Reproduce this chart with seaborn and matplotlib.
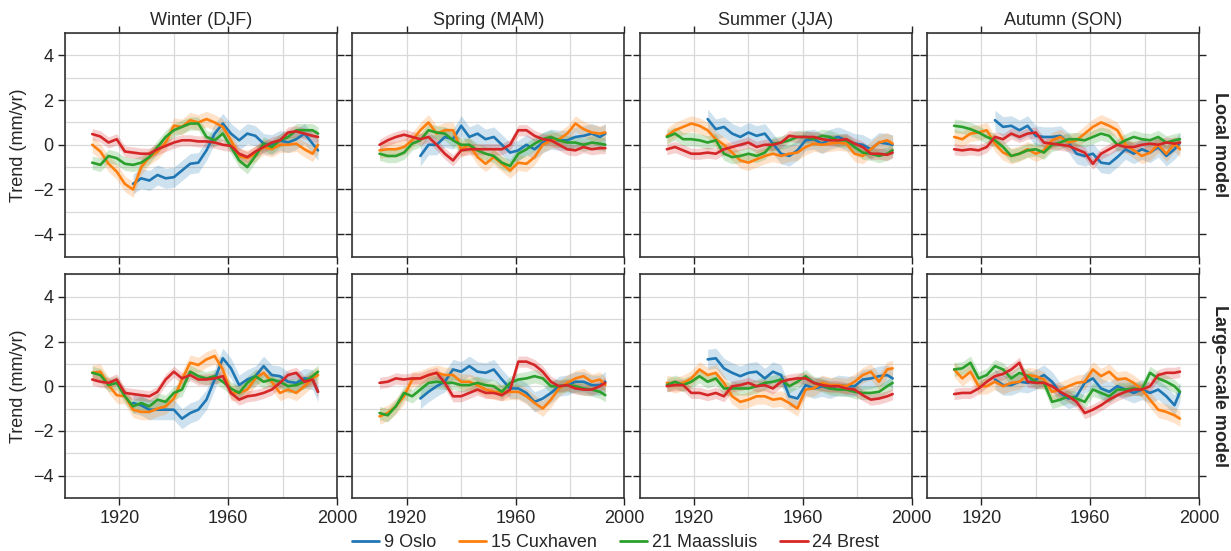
import numpy as np
import pandas as pd
import matplotlib
matplotlib.use("Agg")
import matplotlib.pyplot as plt
from matplotlib.ticker import FixedLocator, MultipleLocator
from matplotlib.lines import Line2D
import seaborn as sns

nan = np.nan

### data (every ~3 years)

years = [1910, 1913, 1916, 1919, 1922, 1925, 1928, 1931, 1934, 1937, 1940, 1943, 1946, 1949,
         1952, 1955, 1958, 1961, 1964, 1967, 1970, 1973, 1976, 1979, 1982, 1985, 1988, 1991, 1993]
stations = ["9 Oslo", "15 Cuxhaven", "21 Maassluis", "24 Brest"]
colors = ["#1f77b4", "#ff7f0e", "#2ca02c", "#d62728"]
seasons = ["Winter (DJF)", "Spring (MAM)", "Summer (JJA)", "Autumn (SON)"]
models = ["Local model", "Large\u2013scale model"]
band = [0.45, 0.35, 0.3, 0.25]   # rough half-width of shaded band per station

# local model
djf_local = {
    "9 Oslo": [nan] * 5 + [-1.75, -1.5, -1.6, -1.35, -1.5, -1.45, -1.15, -0.85, -0.8, -0.25, 0.5, 0.95,
                           0.5, 0.2, 0.5, 0.4, 0.05, 0.0, 0.2, 0.1, 0.25, 0.5, 0.05, -0.25],
    "15 Cuxhaven": [0.0, -0.3, -0.85, -1.2, -1.75, -2.0, -1.0, -0.55, -0.3, 0.1, 0.85, 0.8, 1.1, 1.0, 1.15,
                    1.0, 0.8, 0.2, -0.5, -0.6, -0.4, -0.1, -0.2, 0.0, 0.0, 0.05, -0.2, -0.4, 0.0],
    "21 Maassluis": [-0.8, -0.9, -0.5, -0.6, -0.85, -0.9, -0.8, -0.55, -0.1, 0.35, 0.65, 0.8, 0.95, 0.95, 0.35,
                     0.2, 0.5, -0.1, -0.7, -1.0, -0.5, 0.05, -0.1, 0.2, 0.35, 0.65, 0.65, 0.65, 0.5],
    "24 Brest": [0.48, 0.37, 0.1, 0.25, -0.3, -0.35, -0.4, -0.4, -0.2, -0.05, 0.1, 0.2, 0.2, 0.15, 0.15,
                 0.1, 0.0, -0.05, -0.4, -0.55, -0.3, -0.1, 0.1, 0.2, 0.55, 0.6, 0.5, 0.4, 0.35],
}
mam_local = {
    "9 Oslo": [nan] * 5 + [-0.5, 0.0, 0.0, 0.35, 0.25, 0.85, 0.35, 0.5, 0.25, 0.35, 0.0, -0.35,
                           -0.25, 0.0, -0.2, 0.1, 0.25, 0.2, 0.2, 0.35, 0.4, 0.5, 0.35, 0.5],
    "15 Cuxhaven": [-0.25, -0.2, -0.2, -0.1, 0.2, 0.65, 1.0, 0.5, 0.65, 0.65, -0.2, 0.0, -0.55, -0.85, -0.55,
                    -0.85, -1.15, -0.8, -0.85, -0.55, 0.0, 0.2, 0.25, 0.5, 0.95, 0.7, 0.55, 0.5, 0.55],
    "21 Maassluis": [-0.4, -0.5, -0.5, -0.35, 0.05, 0.2, 0.65, 0.55, 0.5, 0.2, 0.0, 0.0, -0.25, -0.4, -0.5,
                     -0.8, -0.95, -0.4, -0.2, 0.05, 0.25, 0.35, 0.2, 0.1, 0.1, 0.0, 0.1, 0.05, 0.0],
    "24 Brest": [0.0, 0.2, 0.35, 0.45, 0.35, 0.25, 0.35, 0.0, -0.4, -0.7, -0.25, -0.2, -0.2, -0.2, -0.2,
                 -0.2, 0.0, 0.65, 0.65, 0.4, 0.25, 0.2, 0.0, -0.2, -0.25, -0.1, -0.2, -0.15, -0.15],
}
jja_local = {
    "9 Oslo": [nan] * 5 + [1.15, 0.7, 0.8, 0.5, 0.35, 0.55, 0.4, 0.5, 0.05, -0.4, -0.5, -0.25,
                           0.2, 0.25, 0.05, 0.25, 0.35, 0.2, 0.05, 0.0, -0.2, 0.1, 0.05, 0.0],
    "15 Cuxhaven": [0.4, 0.65, 0.8, 0.95, 0.85, 0.65, 0.25, 0.0, -0.35, -0.7, -0.8, -0.65, -0.5, -0.4, -0.5,
                    -0.4, -0.35, -0.1, 0.05, 0.0, 0.05, 0.1, 0.05, -0.4, -0.5, -0.2, 0.1, 0.2, 0.05],
    "21 Maassluis": [0.35, 0.5, 0.25, 0.25, 0.2, 0.1, 0.2, -0.4, -0.55, -0.5, -0.4, -0.5, -0.35, 0.05, 0.1,
                     0.2, 0.35, 0.35, 0.25, 0.4, 0.35, 0.2, 0.2, -0.1, -0.35, -0.4, -0.5, -0.4, -0.25],
    "24 Brest": [-0.2, -0.1, -0.25, -0.4, -0.4, -0.35, -0.4, -0.2, -0.1, 0.0, 0.1, -0.1, 0.0, 0.0, 0.1,
                 0.4, 0.35, 0.35, 0.35, 0.25, 0.2, 0.2, 0.25, 0.05, -0.1, -0.4, -0.4, -0.45, -0.35],
}
son_local = {
    "9 Oslo": [nan] * 5 + [1.1, 0.8, 0.85, 0.65, 0.85, 0.4, 0.35, 0.35, 0.4, 0.1, -0.4, -0.5,
                           -0.4, -0.8, -0.85, -0.55, -0.2, -0.4, -0.2, -0.35, -0.1, -0.5, -0.2, 0.1],
    "15 Cuxhaven": [0.35, 0.25, 0.5, 0.55, 0.65, 0.05, -0.35, -0.5, -0.4, -0.2, -0.4, -0.25, 0.2, 0.35, 0.1,
                    0.2, 0.5, 0.8, 1.0, 0.85, 0.65, 0.0, -0.25, -0.5, -0.35, 0.0, -0.4, 0.05, -0.2],
    "21 Maassluis": [0.85, 0.8, 0.7, 0.55, 0.35, 0.2, -0.1, -0.5, -0.4, -0.25, -0.2, -0.35, 0.0, 0.1, 0.25,
                     0.25, 0.2, 0.35, 0.5, 0.4, 0.0, 0.2, 0.35, 0.25, 0.2, 0.35, 0.1, 0.2, 0.25],
    "24 Brest": [-0.2, -0.25, -0.2, -0.25, -0.1, 0.35, 0.25, 0.5, 0.35, 0.5, 0.55, 0.1, 0.05, 0.0, -0.05,
                 -0.2, -0.35, -0.85, -0.4, -0.2, 0.0, -0.1, -0.1, 0.0, 0.05, 0.0, 0.1, 0.05, 0.1],
}

# large-scale model
djf_large = {
    "9 Oslo": [nan] * 5 + [-0.75, -0.85, -1.05, -1.05, -1.05, -1.05, -1.45, -1.2, -1.05, -0.6, 0.3, 1.25,
                           0.8, 0.05, 0.3, 0.45, 0.9, 0.5, 0.45, 0.2, 0.15, 0.35, 0.3, -0.25],
    "15 Cuxhaven": [0.6, 0.65, 0.05, -0.4, -0.45, -1.05, -1.15, -1.15, -1.0, -0.9, -0.55, 0.3, 1.05, 0.95, 1.2,
                    1.35, 0.75, -0.3, -0.3, -0.15, 0.35, 0.6, 0.2, -0.3, -0.15, -0.3, 0.0, 0.35, 0.5],
    "21 Maassluis": [0.6, 0.5, 0.05, 0.15, -0.45, -0.9, -0.75, -0.9, -0.6, -0.7, -0.3, -0.15, 0.65, 0.45, 0.35,
                     0.45, 0.2, -0.1, -0.3, 0.15, 0.45, 0.2, 0.3, 0.2, 0.0, 0.05, 0.2, 0.45, 0.65],
    "24 Brest": [0.3, 0.2, 0.15, 0.3, -0.3, -0.35, -0.4, -0.45, -0.25, 0.3, 0.65, 0.35, 0.5, 0.3, 0.3,
                 0.35, 0.45, -0.3, -0.6, -0.45, -0.4, -0.3, -0.15, 0.15, 0.5, 0.6, 0.2, 0.3, -0.25],
}
mam_large = {
    "9 Oslo": [nan] * 5 + [-0.55, -0.25, 0.0, 0.2, 0.75, 0.65, 0.9, 0.65, 0.6, 0.75, 0.3, -0.1,
                           -0.1, -0.3, -0.7, -0.55, -0.3, 0.0, 0.05, 0.2, 0.2, 0.05, 0.05, 0.2],
    "15 Cuxhaven": [-1.35, -1.2, -0.9, -0.45, 0.3, 0.35, 0.5, 0.6, 0.5, 0.5, 0.2, 0.2, 0.05, -0.15, -0.25,
                    -0.3, -0.25, -0.25, -0.45, -0.75, -1.0, -0.6, -0.1, 0.15, 0.35, 0.45, 0.2, 0.3, 0.05],
    "21 Maassluis": [-1.2, -1.3, -0.9, -0.3, -0.45, -0.15, 0.15, 0.2, 0.15, 0.15, 0.05, 0.05, 0.15, 0.05, 0.0,
                     -0.25, 0.15, 0.3, 0.35, 0.45, 0.35, 0.0, 0.0, 0.05, 0.0, -0.1, -0.15, -0.25, -0.4],
    "24 Brest": [0.15, 0.2, 0.35, 0.3, 0.35, 0.35, 0.5, 0.6, 0.15, -0.45, -0.45, -0.3, -0.15, -0.3, -0.3,
                 -0.4, -0.15, 1.1, 1.1, 0.95, 0.65, 0.2, 0.0, 0.05, -0.1, -0.15, -0.15, 0.0, 0.15],
}
jja_large = {
    "9 Oslo": [nan] * 5 + [1.2, 1.25, 0.8, 0.6, 0.45, 0.6, 0.65, 0.35, 0.65, 0.5, -0.45, -0.55,
                           0.05, -0.1, 0.0, -0.1, 0.05, 0.0, 0.0, 0.3, 0.35, 0.45, 0.5, 0.35],
    "15 Cuxhaven": [0.15, 0.05, 0.15, 0.35, 0.75, 0.5, 0.6, 0.15, -0.45, -0.7, -0.6, -0.45, -0.45, -0.6, -0.55,
                    -0.75, -1.0, -0.15, -0.1, 0.15, 0.05, 0.05, 0.0, 0.2, 0.5, 0.65, 0.2, 0.75, 0.8],
    "21 Maassluis": [0.05, 0.2, 0.05, 0.2, 0.45, 0.2, 0.35, -0.1, -0.1, -0.1, -0.1, 0.0, 0.15, 0.2, 0.3,
                     0.0, 0.2, 0.45, 0.15, 0.05, -0.1, -0.15, -0.15, -0.25, -0.3, -0.3, -0.25, 0.0, 0.15],
    "24 Brest": [0.0, 0.05, 0.05, -0.3, -0.3, -0.4, -0.3, -0.45, 0.0, 0.05, 0.15, 0.0, 0.05, -0.1, 0.2,
                 0.3, 0.35, 0.35, 0.15, 0.05, 0.0, 0.0, -0.1, -0.15, -0.4, -0.6, -0.55, -0.45, -0.35],
}
son_large = {
    "9 Oslo": [nan] * 5 + [0.3, 0.05, 0.05, 0.2, 0.15, 0.3, 0.5, 0.2, -0.3, -0.55, -0.45, 0.15,
                           0.35, -0.1, -0.25, 0.0, -0.15, -0.3, -0.15, -0.3, -0.15, -0.45, -0.85, -0.25],
    "15 Cuxhaven": [0.75, 0.35, 0.65, 0.0, 0.0, 0.2, 0.0, 0.15, 0.2, 0.5, 0.45, 0.3, -0.25, -0.15, 0.0,
                    0.15, 0.2, 0.75, 0.45, 0.65, 0.3, 0.35, 0.15, -0.15, -0.6, -1.05, -1.15, -1.3, -1.45],
    "21 Maassluis": [0.75, 0.8, 1.05, 0.35, 0.5, 0.9, 0.75, 0.35, 0.6, 0.45, 0.2, 0.15, -0.7, -0.6, -0.45,
                     -0.55, -0.7, -0.15, -0.3, -0.45, -0.15, -0.15, -0.1, -0.15, 0.6, 0.35, 0.2, 0.0, -0.25],
    "24 Brest": [-0.35, -0.3, -0.3, -0.1, 0.2, 0.45, 0.55, 0.75, 1.05, 0.2, 0.15, 0.15, 0.0, -0.25, -0.45,
                 -0.7, -1.2, -1.05, -0.85, -0.6, -0.4, -0.25, -0.15, -0.15, 0.0, 0.5, 0.6, 0.6, 0.65],
}

panels = [[djf_local, mam_local, jja_local, son_local],
          [djf_large, mam_large, jja_large, son_large]]

## long table for seaborn
rows = []
for i, model in enumerate(models):
    for j, season in enumerate(seasons):
        for k, st in enumerate(stations):
            for yr, v in zip(years, panels[i][j][st]):
                rows.append({"model": model, "season": season, "station": st, "year": yr,
                             "trend": v, "lo": v - band[k], "hi": v + band[k]})
df = pd.DataFrame(rows).dropna()

sns.set_theme(style="white")
plt.rcParams['font.family'] = ['Liberation Sans', 'DejaVu Sans']
plt.rcParams['font.size'] = 13

fig, axes = plt.subplots(2, 4, figsize=(12.31, 5.51), dpi=100, sharex=True, sharey=True)
fig.subplots_adjust(left=65 / 1231, right=1199 / 1231, top=1 - 33 / 551, bottom=1 - 498 / 551,
                    wspace=0.056, hspace=0.08)

for i, model in enumerate(models):
    for j, season in enumerate(seasons):
        ax = axes[i, j]
        sub = df[(df.model == model) & (df.season == season)]
        for k, st in enumerate(stations):
            s = sub[sub.station == st]
            ax.fill_between(s.year, s.lo, s.hi, color=colors[k], alpha=0.22, lw=0)
        sns.lineplot(data=sub, x="year", y="trend", hue="station", hue_order=stations,
                     palette=colors, errorbar=None, linewidth=1.9, legend=False, ax=ax)
        ax.set_xlim(1900, 2000)
        ax.set_ylim(-5, 5)
        ax.xaxis.set_major_locator(FixedLocator([1920, 1960, 2000]))
        ax.xaxis.set_minor_locator(MultipleLocator(20))
        ax.yaxis.set_major_locator(MultipleLocator(2))
        ax.yaxis.set_minor_locator(MultipleLocator(1))
        ax.grid(which="both", color="#d9d9d9", linewidth=0.9)
        ax.set_axisbelow(True)
        ax.tick_params(which="major", direction="out", length=5, width=1, color="#222222",
                       top=True, right=True, bottom=True, left=True, labelsize=13)
        ax.tick_params(which="minor", length=0)
        for sp in ax.spines.values():
            sp.set_color("#333333")
            sp.set_linewidth(1.2)
        ax.set_xlabel("")
        ax.set_ylabel("Trend (mm/yr)" if j == 0 else "", fontsize=13)
        if i == 0:
            ax.set_title(season, fontsize=13, pad=6)
        if j == 3:
            ax.text(1.045, 0.5, model, transform=ax.transAxes, rotation=-90,
                    va="center", ha="left", fontsize=13, fontweight="bold")

handles = [Line2D([0], [0], color=c, lw=2) for c in colors]
fig.legend(handles, stations, loc="lower center", ncol=4, frameon=False,
           bbox_to_anchor=(0.5, -0.03), fontsize=13, handlelength=1.5,
           handletextpad=0.25, columnspacing=1.3)

fig.savefig("out.png", dpi=100)
